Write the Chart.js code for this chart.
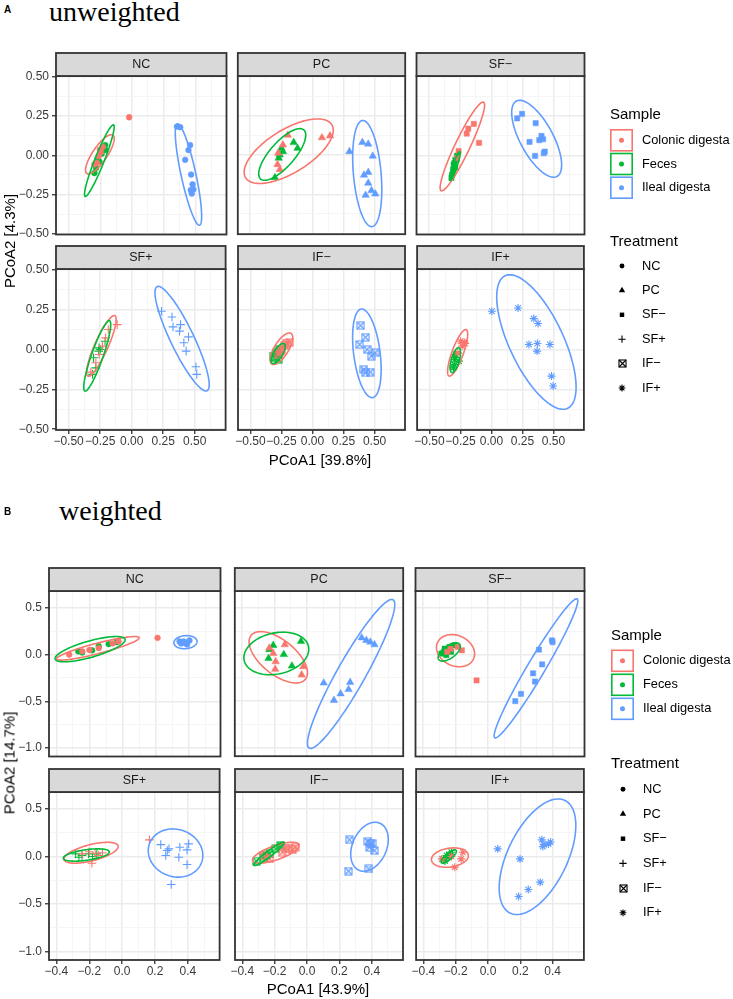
<!DOCTYPE html>
<html>
<head>
<meta charset="utf-8">
<script src="https://cdn.jsdelivr.net/npm/chart.js@4.4.0/dist/chart.umd.min.js"></script>
<style>
  body { margin: 0; background: #fff; width: 733px; height: 999px; position: relative; overflow: hidden; font-family: "Liberation Sans", Arial, sans-serif; }
  canvas { position: absolute; }
  .t { position: absolute; white-space: nowrap; line-height: 1; color: #000; }
</style>
</head>
<body>
<script>
// facets and groups
const treatments = ['NC', 'PC', 'SF\u2212', 'SF+', 'IF\u2212', 'IF+'];
const samples = ['Colonic digesta', 'Feces', 'Ileal digesta'];

// axis breaks
const unwXTicks = [-0.5, -0.25, 0, 0.25, 0.5];
const unwYTicks = [-0.5, -0.25, 0, 0.25, 0.5];
const unwXMinor = [-0.375, -0.125, 0.125, 0.375, 0.625];
const unwYMinor = [-0.375, -0.125, 0.125, 0.375];
const wXTicks = [-0.4, -0.2, 0, 0.2, 0.4];
const wYTicks = [-1, -0.5, 0, 0.5];
const wXMinor = [-0.3, -0.1, 0.1, 0.3, 0.5];
const wYMinor = [-0.75, -0.25, 0.25];

// unweighted PCoA, one list of [PCoA1, PCoA2] per facet (NC, PC, SF-, SF+, IF-, IF+)
const unwColonic = [
  [[-0.023, 0.242], [-0.254, 0.035], [-0.264, -0.006], [-0.277, -0.048], [-0.23, 0.054], [-0.297, -0.058], [-0.245, 0.02]],
  [[-0.198, 0.127], [0.076, 0.111], [0.141, 0.123], [-0.276, 0.013], [-0.281, -0.06], [-0.263, -0.092], [-0.237, 0.065]],
  [[-0.141, 0.2], [-0.185, 0.169], [-0.198, 0.138], [-0.099, 0.079], [-0.263, 0.027], [-0.276, -0.019]],
  [[-0.115, 0.156], [-0.185, 0.125], [-0.206, 0.073], [-0.232, 0.021], [-0.258, -0.031], [-0.284, -0.083], [-0.323, -0.142]],
  [[-0.185, 0.046], [-0.224, 0.025], [-0.25, 0], [-0.276, -0.031], [-0.21, 0.04], [-0.26, -0.01]],
  [[-0.211, 0.038], [-0.25, 0.052], [-0.237, 0.021], [-0.271, -0.021], [-0.22, 0.045]]
];
const unwFeces = [
  [[-0.211, 0.065], [-0.211, 0.033], [-0.271, -0.019], [-0.258, -0.04], [-0.284, -0.081], [-0.297, -0.113], [-0.24, 0.01]],
  [[-0.151, 0.081], [-0.12, 0.044], [-0.25, 0.044], [-0.263, 0.002], [-0.271, -0.019], [-0.302, -0.144], [-0.237, 0.023]],
  [[-0.289, -0.029], [-0.302, -0.06], [-0.307, -0.092], [-0.315, -0.123], [-0.297, -0.05], [-0.276, -0.003], [-0.32, -0.144], [-0.29, -0.08]],
  [[-0.211, 0.052], [-0.258, 0.01], [-0.262, -0.01], [-0.302, -0.052], [-0.284, -0.115], [-0.31, -0.156], [-0.25, 0]],
  [[-0.289, -0.021], [-0.302, -0.052], [-0.263, 0], [-0.315, -0.042], [-0.276, -0.063], [-0.28, -0.03]],
  [[-0.289, -0.031], [-0.297, -0.063], [-0.302, -0.094], [-0.263, -0.073], [-0.307, -0.115], [-0.29, -0.05]]
];
const unwIleal = [
  [[0.354, 0.183], [0.38, 0.179], [0.458, 0.065], [0.445, 0.033], [0.419, -0.029], [0.466, -0.123], [0.477, -0.185], [0.484, -0.217], [0.471, -0.244], [0.463, -0.222]],
  [[0.297, 0.023], [0.401, 0.081], [0.448, 0.071], [0.484, -0.006], [0.448, -0.11], [0.414, -0.127], [0.448, -0.179], [0.474, -0.227], [0.427, -0.256], [0.505, -0.248]],
  [[0.206, 0.235], [0.245, 0.263], [0.354, 0.204], [0.401, 0.123], [0.383, 0.096], [0.414, 0.102], [0.305, 0.085], [0.427, 0.023], [0.419, 0.013], [0.349, -0.004]],
  [[0.237, 0.24], [0.32, 0.204], [0.328, 0.142], [0.388, 0.156], [0.38, 0.115], [0.451, 0.079], [0.414, 0.042], [0.432, -0.01], [0.51, -0.108], [0.516, -0.156]],
  [[0.388, 0.15], [0.427, 0.077], [0.38, 0.031], [0.44, 0], [0.505, -0.021], [0.474, -0.042], [0.414, -0.125], [0.427, -0.146], [0.466, -0.142]],
  [[0.003, 0.24], [0.214, 0.26], [0.341, 0.194], [0.375, 0.163], [0.302, 0.031], [0.37, 0.038], [0.367, -0.01], [0.471, 0.031], [0.484, -0.167], [0.497, -0.229]]
];
// confidence ellipses: [centre x, centre y, half width, half height, correlation]
const unwEllColonic = [[-0.254, 0.006, 0.113, 0.125, 0.8], [-0.191, 0.025, 0.358, 0.206, 0.65], [-0.233, 0.056, 0.178, 0.283, 0.93], [-0.24, 0.023, 0.117, 0.19, 0.87], [-0.25, 0.005, 0.091, 0.099, 0.7], [-0.273, -0.021, 0.081, 0.146, 0.8]];
const unwEllFeces = [[-0.258, -0.034, 0.117, 0.228, 0.94], [-0.243, 0.004, 0.189, 0.165, 0.75], [-0.292, -0.069, 0.042, 0.092, 0.9], [-0.273, -0.04, 0.107, 0.221, 0.89], [-0.276, -0.025, 0.057, 0.063, 0.7], [-0.292, -0.067, 0.042, 0.078, 0.6]];
const unwEllIleal = [[0.445, -0.123, 0.104, 0.323, -0.82], [0.44, -0.118, 0.117, 0.339, -0.3], [0.362, 0.105, 0.2, 0.245, -0.68], [0.4, 0.068, 0.215, 0.328, -0.88], [0.438, -0.024, 0.115, 0.278, -0.36], [0.362, 0.047, 0.32, 0.422, -0.67]];

// weighted PCoA
const wColonic = [
  [[0.212, 0.179], [-0.024, 0.14], [-0.144, 0.07], [-0.244, 0.035], [-0.323, 0], [-0.06, 0.12], [-0.2, 0.05]],
  [[-0.137, 0.105], [-0.208, 0.011], [-0.193, -0.077], [-0.196, -0.158], [-0.033, -0.218], [-0.023, -0.13], [-0.232, 0.07]],
  [[-0.16, 0.046], [-0.07, -0.277], [-0.186, 0.081], [-0.23, 0.06], [-0.25, 0.03]],
  [[0.166, 0.176], [-0.164, 0.035], [-0.144, 0.011], [-0.184, -0.07], [-0.244, 0.028], [-0.2, 0.05], [-0.12, 0.04]],
  [[-0.073, 0.098], [-0.113, 0.081], [-0.153, 0.046], [-0.232, -0.025], [-0.272, 0.011], [-0.09, 0.07], [-0.13, 0.09]],
  [[-0.156, 0.046], [-0.206, -0.112], [-0.166, -0.025], [-0.226, 0], [-0.286, -0.025]]
];
const wFeces = [
  [[-0.084, 0.112], [-0.144, 0.091], [-0.184, 0.046], [-0.244, 0.023], [-0.268, 0.035], [-0.034, 0.133]],
  [[-0.232, 0.053], [-0.208, 0.098], [-0.143, 0], [-0.093, -0.123], [-0.037, 0.14], [-0.237, -0.042]],
  [[-0.286, 0.011], [-0.266, 0.063], [-0.236, 0.081], [-0.206, 0.098], [-0.256, -0.007], [-0.226, 0.028], [-0.27, 0.03], [-0.24, 0.05]],
  [[-0.283, 0.028], [-0.244, 0.011], [-0.204, 0.028], [-0.154, 0.028], [-0.263, -0.007], [-0.18, 0]],
  [[-0.313, -0.049], [-0.272, -0.007], [-0.232, 0.028], [-0.193, 0.081], [-0.163, 0.116], [-0.25, 0.01]],
  [[-0.276, -0.025], [-0.256, 0.011], [-0.226, 0.046], [-0.246, -0.004], [-0.266, -0.046], [-0.24, 0.02]]
];
const wIleal = [
  [[0.345, 0.14], [0.375, 0.126], [0.405, 0.151], [0.355, 0.119], [0.391, 0.109], [0.37, 0.14]],
  [[0.337, 0.179], [0.366, 0.151], [0.39, 0.133], [0.416, 0.105], [0.103, -0.305], [0.166, -0.491], [0.207, -0.421], [0.256, -0.375], [0.266, -0.298]],
  [[0.393, 0.151], [0.397, 0.133], [0.313, 0.053], [0.333, -0.105], [0.277, -0.2], [0.289, -0.288], [0.203, -0.421], [0.168, -0.498]],
  [[0.235, 0.126], [0.275, 0.063], [0.265, 0.011], [0.285, 0.081], [0.351, 0.098], [0.345, -0.007], [0.395, 0.07], [0.405, 0.133], [0.395, -0.084], [0.299, -0.295]],
  [[0.262, 0.176], [0.256, -0.154], [0.382, -0.13], [0.376, 0.161], [0.402, 0.14], [0.386, 0.098], [0.416, 0.063], [0.39, 0.133]],
  [[0.06, 0.081], [0.198, -0.025], [0.333, 0.176], [0.347, 0.126], [0.373, 0.133], [0.387, 0.154], [0.339, 0.105], [0.323, -0.27], [0.249, -0.347], [0.189, -0.421]]
];
const wEllColonic = [[-0.149, 0.067, 0.25, 0.126, 0.89], [-0.177, -0.03, 0.18, 0.275, -0.6], [-0.199, 0.042, 0.117, 0.172, -0.2], [-0.189, 0.04, 0.165, 0.11, 0.6], [-0.193, 0.04, 0.144, 0.11, 0.7], [-0.236, -0.011, 0.114, 0.102, 0.2]];
const wEllFeces = [[-0.196, 0.058, 0.212, 0.135, 0.74], [-0.189, 0.011, 0.2, 0.228, 0.2], [-0.238, 0.028, 0.068, 0.098, 0.6], [-0.218, 0.016, 0.14, 0.065, 0.5], [-0.235, 0.028, 0.093, 0.123, 0.95], [-0.243, 0, 0.047, 0.07, 0.8]];
const wEllIleal = [[0.381, 0.133, 0.07, 0.07, 0.1], [0.272, -0.209, 0.269, 0.798, 0.93], [0.295, -0.147, 0.257, 0.744, 0.97], [0.325, 0.037, 0.166, 0.254, -0.1], [0.386, 0.103, 0.116, 0.258, 0.3], [0.306, -0.002, 0.237, 0.609, 0.54]];

const COLORS = ['#F8766D', '#00BA38', '#619CFF'];
const FONT = '"Liberation Sans", Arial, sans-serif';
const STYLES = ['circle', 'triangle', 'rect', 'cross', 'squareX', 'star'];
const RADII = [2.9, 4.3, 3.7, 4.3, 4.5, 4];

const figs = [
  { colonic: unwColonic, feces: unwFeces, ileal: unwIleal, ells: [unwEllColonic, unwEllFeces, unwEllIleal],
    xt: unwXTicks, yt: unwYTicks, xm: unwXMinor, ym: unwYMinor, digits: 2,
    xr: [-0.60, 0.745], yr: [-0.505, 0.505], lefts: [56, 235, 414], tops: [76, 269], w: 173, h: 161,
    letter: 'A', title: 'unweighted', titleX: 49, titleTop: -2, letterY: 10,
    xlab: 'PCoA1 [39.8%]', xlabX: 320, xlabY: 459, ylab: 'PCoA2 [4.3%]', ylabY: 241,
    leg: { x: 610, sTitle: 113, keyTop: 129, keyStep: 23.7, tTitle: 240, tTop: 266, tStep: 24.4 } },
  { colonic: wColonic, feces: wFeces, ileal: wIleal, ells: [wEllColonic, wEllFeces, wEllIleal],
    xt: wXTicks, yt: wYTicks, xm: wXMinor, ym: wYMinor, digits: 1,
    xr: [-0.445, 0.593], yr: [-1.09, 0.68], lefts: [49, 232, 413], tops: [591, 792], w: 174, h: 168,
    letter: 'B', title: 'weighted', titleX: 59, titleTop: 497, letterY: 512,
    xlab: 'PCoA1 [43.9%]', xlabX: 318, xlabY: 988, ylab: 'PCoA2 [14.7%]', ylabY: 763,
    leg: { x: 611, sTitle: 634, keyTop: 649.5, keyStep: 24, tTitle: 762, tTop: 789.3, tStep: 24.7 } }
];

function squareX(color) {
  const c = document.createElement('canvas');
  c.width = 9; c.height = 9;
  const g = c.getContext('2d');
  g.strokeStyle = color; g.lineWidth = 1.1;
  g.strokeRect(1, 1, 7, 7);
  g.beginPath();
  g.moveTo(1, 1); g.lineTo(8, 8);
  g.moveTo(8, 1); g.lineTo(1, 8);
  g.stroke();
  return c;
}

function addText(txt, css) {
  const d = document.createElement('div');
  d.className = 't';
  d.textContent = txt;
  Object.assign(d.style, css);
  document.body.appendChild(d);
  return d;
}

function makePanel(fig, idx) {
  const col = idx % 3, row = Math.floor(idx / 3);
  const padL = col === 0 ? 50 : 2, padB = row === 1 ? 22 : 2, padT = 24, padR = 2;
  const W = fig.w + padL + padR, H = fig.h + padT + padB;
  const cv = document.createElement('canvas');
  cv.width = W; cv.height = H;
  cv.style.left = (fig.lefts[col] - padL) + 'px';
  cv.style.top = (fig.tops[row] - padT) + 'px';
  cv.style.width = W + 'px'; cv.style.height = H + 'px';
  document.body.appendChild(cv);

  const groups = [fig.colonic[idx], fig.feces[idx], fig.ileal[idx]];
  const ells = fig.ells.map(e => e[idx]);
  const style = STYLES[idx];
  const lineMark = style === 'cross' || style === 'star';
  const datasets = groups.map((pts, g) => ({
    label: samples[g],
    data: pts.map(p => ({ x: p[0], y: p[1] })),
    pointStyle: style === 'squareX' ? squareX(COLORS[g]) : style,
    pointRadius: RADII[idx],
    backgroundColor: COLORS[g],
    borderColor: COLORS[g],
    borderWidth: lineMark ? 1.1 : 0.5
  }));

  const isMinor = c => c.tick && c.tick.minorTick;
  const axis = (majors, minors, range, show, size, vertical) => ({
    type: 'linear', min: range[0], max: range[1],
    afterBuildTicks: s => {
      s.ticks = majors.map(v => ({ value: v }))
        .concat(minors.map(v => ({ value: v, minorTick: true })))
        .sort((a, b) => a.value - b.value);
    },
    afterFit: s => {
      if (vertical) s.width = size; else s.height = size;
      s.paddingLeft = s.paddingRight = s.paddingTop = s.paddingBottom = 0;
    },
    ticks: {
      display: show, autoSkip: false, maxRotation: 0, minRotation: 0,
      padding: vertical ? 3 : 0, color: '#3A3A3A', font: { family: FONT, size: 12 },
      callback: (v, i, t) => t[i].minorTick ? '' : v.toFixed(fig.digits).replace('-', '\u2212')
    },
    grid: {
      color: c => isMinor(c) ? '#F2F2F2' : '#EBEBEB',
      lineWidth: c => isMinor(c) ? 0.8 : 1.5,
      drawTicks: show, tickLength: 4, tickWidth: 1.3,
      tickColor: c => isMinor(c) ? 'rgba(0,0,0,0)' : '#333333'
    },
    border: { display: false }
  });

  const panelPlugin = {
    id: 'panel',
    afterDatasetsDraw(chart) {
      const { ctx, chartArea: a, scales: { x, y } } = chart;
      ctx.save();
      ctx.beginPath(); ctx.rect(a.left, a.top, a.width, a.height); ctx.clip();
      ctx.lineWidth = 1.6;
      ells.forEach((e, g) => {
        const [cx, cy, sx, sy, r] = e;
        const q = Math.sqrt(1 - r * r);
        ctx.strokeStyle = COLORS[g];
        ctx.beginPath();
        for (let i = 0; i <= 120; i++) {
          const t = i / 120 * 2 * Math.PI;
          const px = x.getPixelForValue(cx + sx * Math.cos(t));
          const py = y.getPixelForValue(cy + sy * (r * Math.cos(t) + q * Math.sin(t)));
          if (i) ctx.lineTo(px, py); else ctx.moveTo(px, py);
        }
        ctx.closePath();
        ctx.stroke();
      });
      ctx.restore();
    },
    afterDraw(chart) {
      const { ctx, chartArea: a } = chart;
      ctx.save();
      ctx.strokeStyle = '#333333'; ctx.lineWidth = 1.8;
      ctx.strokeRect(a.left, a.top, a.width, a.height);
      ctx.fillStyle = '#D9D9D9';
      ctx.fillRect(a.left, 1, a.width, a.top - 1);
      ctx.strokeRect(a.left, 1, a.width, a.top - 1);
      ctx.fillStyle = '#1A1A1A';
      ctx.font = '12.5px ' + FONT;
      ctx.textAlign = 'center'; ctx.textBaseline = 'middle';
      ctx.fillText(treatments[idx], (a.left + a.right) / 2, a.top / 2 + 1);
      ctx.restore();
    }
  };

  new Chart(cv.getContext('2d'), {
    type: 'scatter',
    data: { datasets },
    options: {
      responsive: false, animation: false, events: [],
      layout: { padding: { top: padT, left: 0, right: padR, bottom: 0 } },
      plugins: { legend: { display: false }, tooltip: { enabled: false } },
      scales: {
        x: axis(fig.xt, fig.xm, fig.xr, row === 1, padB, false),
        y: axis(fig.yt, fig.ym, fig.yr, col === 0, padL, true)
      }
    },
    plugins: [panelPlugin]
  });
}

function drawSymbol(ctx, style, x, y, r, color) {
  ctx.fillStyle = color; ctx.strokeStyle = color; ctx.lineWidth = 1.1;
  ctx.beginPath();
  if (style === 'circle') { ctx.arc(x, y, r, 0, 2 * Math.PI); ctx.fill(); }
  else if (style === 'triangle') {
    for (let k = 0; k < 3; k++) {
      const a = k * 2 * Math.PI / 3;
      ctx.lineTo(x + Math.sin(a) * r, y - Math.cos(a) * r);
    }
    ctx.closePath(); ctx.fill();
  } else if (style === 'rect') { const s = r * Math.SQRT1_2; ctx.rect(x - s, y - s, 2 * s, 2 * s); ctx.fill(); }
  else if (style === 'cross') { ctx.moveTo(x - r, y); ctx.lineTo(x + r, y); ctx.moveTo(x, y - r); ctx.lineTo(x, y + r); ctx.stroke(); }
  else if (style === 'squareX') { const img = squareX(color); ctx.drawImage(img, Math.round(x - 4.5), Math.round(y - 4.5)); }
  else if (style === 'star') {
    const d = r * Math.SQRT1_2;
    ctx.moveTo(x - r, y); ctx.lineTo(x + r, y); ctx.moveTo(x, y - r); ctx.lineTo(x, y + r);
    ctx.moveTo(x - d, y - d); ctx.lineTo(x + d, y + d); ctx.moveTo(x + d, y - d); ctx.lineTo(x - d, y + d);
    ctx.stroke();
  }
}

function makeLegend(fig) {
  const L = fig.leg;
  const top = L.sTitle - 20;
  const cv = document.createElement('canvas');
  cv.width = 40; cv.height = 320;
  cv.style.left = (L.x - 4) + 'px'; cv.style.top = top + 'px';
  document.body.appendChild(cv);
  const ctx = cv.getContext('2d');
  addText('Sample', { left: L.x + 'px', top: (L.sTitle - 7.5) + 'px', fontSize: '15px' });
  samples.forEach((s, i) => {
    const y0 = L.keyTop + i * L.keyStep - top;
    ctx.strokeStyle = COLORS[i]; ctx.lineWidth = 1.6;
    ctx.strokeRect(4.8, y0 + 0.8, 21.4, 21);
    drawSymbol(ctx, 'circle', 15.5, y0 + 11.3, 2.5, COLORS[i]);
    addText(s, { left: (L.x + 32) + 'px', top: (L.keyTop + i * L.keyStep + 11.3 - 6.5) + 'px', fontSize: '12.8px' });
  });
  addText('Treatment', { left: L.x + 'px', top: (L.tTitle - 7.5) + 'px', fontSize: '15px' });
  treatments.forEach((t, i) => {
    const yc = L.tTop + i * L.tStep;
    drawSymbol(ctx, STYLES[i], 16, yc - top, RADII[i] * 0.85, '#000000');
    addText(t, { left: (L.x + 32) + 'px', top: (yc - 6.5) + 'px', fontSize: '12.8px' });
  });
}

figs.forEach(fig => {
  for (let i = 0; i < 6; i++) makePanel(fig, i);
  makeLegend(fig);
  addText(fig.letter, { left: '4px', top: (fig.letterY - 5) + 'px', fontSize: '10px', fontWeight: 'bold' });
  addText(fig.title, { left: fig.titleX + 'px', top: fig.titleTop + 'px', fontSize: '28px', fontFamily: '"Liberation Serif", "Times New Roman", serif' });
  addText(fig.xlab, { left: fig.xlabX + 'px', top: fig.xlabY + 'px', fontSize: '15px', transform: 'translate(-50%, -50%)' });
  addText(fig.ylab, { left: '9px', top: fig.ylabY + 'px', fontSize: '15px', transform: 'translate(-50%, -50%) rotate(-90deg)' });
});
</script>
</body>
</html>
